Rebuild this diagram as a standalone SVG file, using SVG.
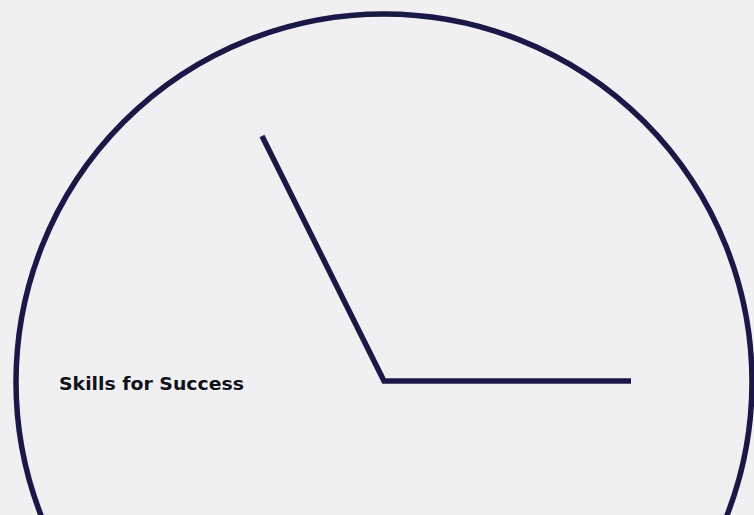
<svg xmlns="http://www.w3.org/2000/svg" width="754" height="515" viewBox="0 0 754 515">
<style>
.ln{fill:none;stroke:#1a1846;stroke-width:5.5}
.t{font-family:"DejaVu Sans","Open Sans",sans-serif;font-weight:700;font-size:18.5px;fill:#111118}
</style>
<rect width="754" height="515" fill="#f0f0f3"/>
<g id="clock">
<circle class="ln" cx="384" cy="382" r="368"/>
</g>
<g id="connectors">
<polyline class="ln" points="262,136 384,381 631,381" stroke-linejoin="miter"/>
</g>
<g id="label">
<text class="t" x="59" y="390" textLength="185" lengthAdjust="spacingAndGlyphs">Skills for Success</text>
</g>
</svg>
